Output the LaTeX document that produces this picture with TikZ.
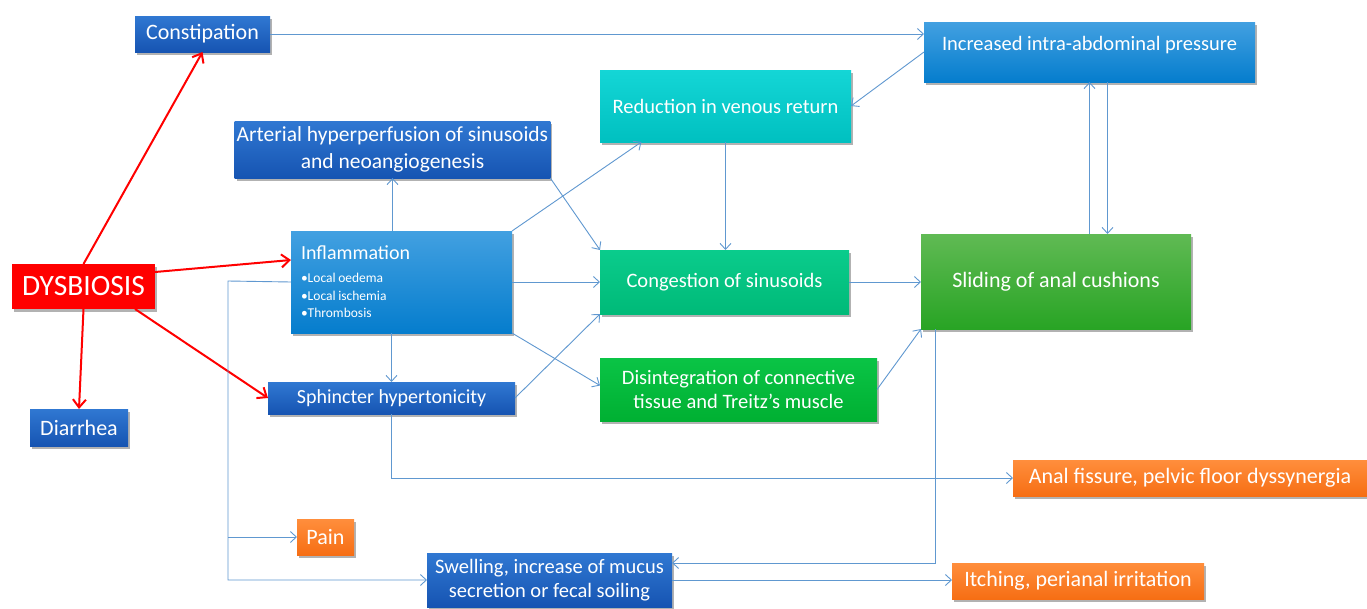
\documentclass[tikz,border=0pt]{standalone}
\usepackage{fontspec}
\setmainfont{Carlito}
\usetikzlibrary{arrows.meta,shadows,calc}
\definecolor{dbT}{RGB}{48,120,210}
\definecolor{dbB}{RGB}{22,84,178}
\definecolor{lbT}{RGB}{66,160,225}
\definecolor{lbB}{RGB}{5,125,205}
\definecolor{cyT}{RGB}{20,214,214}
\definecolor{cyB}{RGB}{0,192,192}
\definecolor{tgT}{RGB}{10,204,140}
\definecolor{tgB}{RGB}{0,186,120}
\definecolor{grT}{RGB}{10,196,70}
\definecolor{grB}{RGB}{0,176,50}
\definecolor{slT}{RGB}{96,186,84}
\definecolor{slB}{RGB}{40,164,36}
\definecolor{orT}{RGB}{255,142,60}
\definecolor{orB}{RGB}{246,110,20}
\definecolor{lineblue}{RGB}{96,152,208}
\definecolor{dysred}{RGB}{255,0,0}
\tikzset{
  box/.style={rectangle, text=white, align=center, inner sep=2pt, outer sep=0pt,
    drop shadow={shadow xshift=2pt, shadow yshift=-2.5pt, opacity=0.3, fill=black},
    font=\fontsize{22}{26}\selectfont},
  dblue/.style={box, top color=dbT, bottom color=dbB},
  lblue/.style={box, top color=lbT, bottom color=lbB},
  cyanbox/.style={box, top color=cyT, bottom color=cyB},
  tealbox/.style={box, top color=tgT, bottom color=tgB},
  greenbox/.style={box, top color=grT, bottom color=grB},
  slidebox/.style={box, top color=slT, bottom color=slB},
  orangebox/.style={box, top color=orT, bottom color=orB},
  redbox/.style={box, fill=dysred, font=\fontsize{29.5}{34}\selectfont},
  conn/.style={draw=lineblue, line width=0.9pt, -{Straight Barb[length=6pt,width=11pt]}},
  redconn/.style={draw=dysred, line width=2pt, -{Straight Barb[length=8pt,width=13pt,line width=2pt]}}
}
\begin{document}
\begin{tikzpicture}[x=1pt,y=-1pt]
\useasboundingbox[fill=white] (0,0) rectangle (1367,608);

\node[dblue, minimum width=135, minimum height=36] (consti) at (202.5,34) {Constipation};
\node[dblue, minimum width=313, minimum height=57, font=\fontsize{21.5}{27}\selectfont] (arter) at (392.5,149.5) {Arterial hyperperfusion of sinusoids\\and neoangiogenesis};
\node[lblue, anchor=north west, minimum width=221, minimum height=102, text width=201, inner xsep=10, align=left, font=\fontsize{20}{24}\selectfont] (inflam) at (291,231)
  {Inflammation\par\vskip5.5pt
   \fontsize{13.5}{17.5}\selectfont\spaceskip=2.6pt plus 1pt minus 0.5pt
   •Local oedema\par •Local ischemia\par •Thrombosis\par};
\node[redbox, minimum width=143, minimum height=45] (dys) at (83.5,286.5) {DYSBIOSIS};
\node[dblue, minimum width=98, minimum height=37] (diar) at (79,427.5) {Diarrhea};
\node[dblue, minimum width=247, minimum height=32, font=\fontsize{20}{24}\selectfont] (sphin) at (391.5,398) {Sphincter hypertonicity};
\node[orangebox, minimum width=57, minimum height=36] (pain) at (325.5,537) {Pain};
\node[dblue, minimum width=245, minimum height=54, font=\fontsize{20.5}{24}\selectfont] (swell) at (549.5,580) {Swelling, increase of mucus\\secretion or fecal soiling};
\node[cyanbox, minimum width=251, minimum height=72, font=\fontsize{20.5}{24}\selectfont] (reduc) at (725.5,106) {Reduction in venous return};
\node[tealbox, minimum width=249, minimum height=64, font=\fontsize{20.5}{24}\selectfont] (conge) at (724.5,282) {Congestion of sinusoids};
\node[greenbox, minimum width=277, minimum height=63, font=\fontsize{20.5}{24}\selectfont] (disin) at (738.5,389.5) {Disintegration of connective\\tissue and Treitz’s muscle};
\node[lblue, minimum width=331, minimum height=60, text height=16, text depth=19, font=\fontsize{20.5}{24}\selectfont] (incr) at (1089.5,52) {Increased intra-abdominal pressure};
\node[slidebox, minimum width=270, minimum height=95] (slid) at (1056,281.5) {Sliding of anal cushions};
\node[orangebox, minimum width=354, minimum height=36] (fiss) at (1190,478) {Anal fissure, pelvic floor dyssynergia};
\node[orangebox, minimum width=252, minimum height=36] (itch) at (1078,581) {Itching, perianal irritation};

% red connectors
\draw[redconn] (dys.north) -- (consti.south);
\draw[redconn] ($(dys.north east)+(0,8)$) -- ($(inflam.north west)+(0,29)$);
\draw[redconn] (dys.south) -- (diar.north);
\draw[redconn] ($(dys.south east)+(-20,0)$) -- (sphin.west);

% blue connectors
\draw[conn] (consti.east) -- (consti.east -| incr.west);
\draw[conn] (incr.west) -- (reduc.east);
\draw[conn] (inflam.north -| arter.south) -- (arter.south);
\draw[conn] (arter.south east) -- (conge.north west);
\draw[conn] (inflam.north east) -- ($(reduc.south west)!0.165!(reduc.south east)$);
\draw[conn] (reduc.south) -- (reduc.south |- conge.north);
\draw[conn] (inflam.east) -- (conge.west);
\draw[conn] (inflam.south east) -- ($(disin.west)+(0,-4)$);
\draw[conn] (sphin.east) -- (conge.south west);
\draw[conn] (sphin.north |- inflam.south) -- (sphin.north);
\draw[conn] (conge.east) -- (conge.east -| slid.west);
\draw[conn] (disin.east) -- (slid.south west);
\draw[conn] (slid.north -| incr.south) -- (incr.south);
\coordinate (incrB) at ($(incr.south)+(18,0)$);
\draw[conn] (incrB) -- (incrB |- slid.north);
\draw[conn] (sphin.south) |- (fiss.west);
\coordinate (slidB) at ($(slid.south west)+(14,0)$);
\coordinate (swellR) at ($(swell.north east)+(0,10)$);
\draw[conn] (slidB) |- (swellR);
\draw[conn] (swell.east) -- (swell.east -| itch.west);
\coordinate (bus) at (228,281);
\draw[conn] (inflam.west) -- (bus) |- (swell.west);
\draw[conn] (bus |- pain.west) -- (pain.west);
\end{tikzpicture}
\end{document}
